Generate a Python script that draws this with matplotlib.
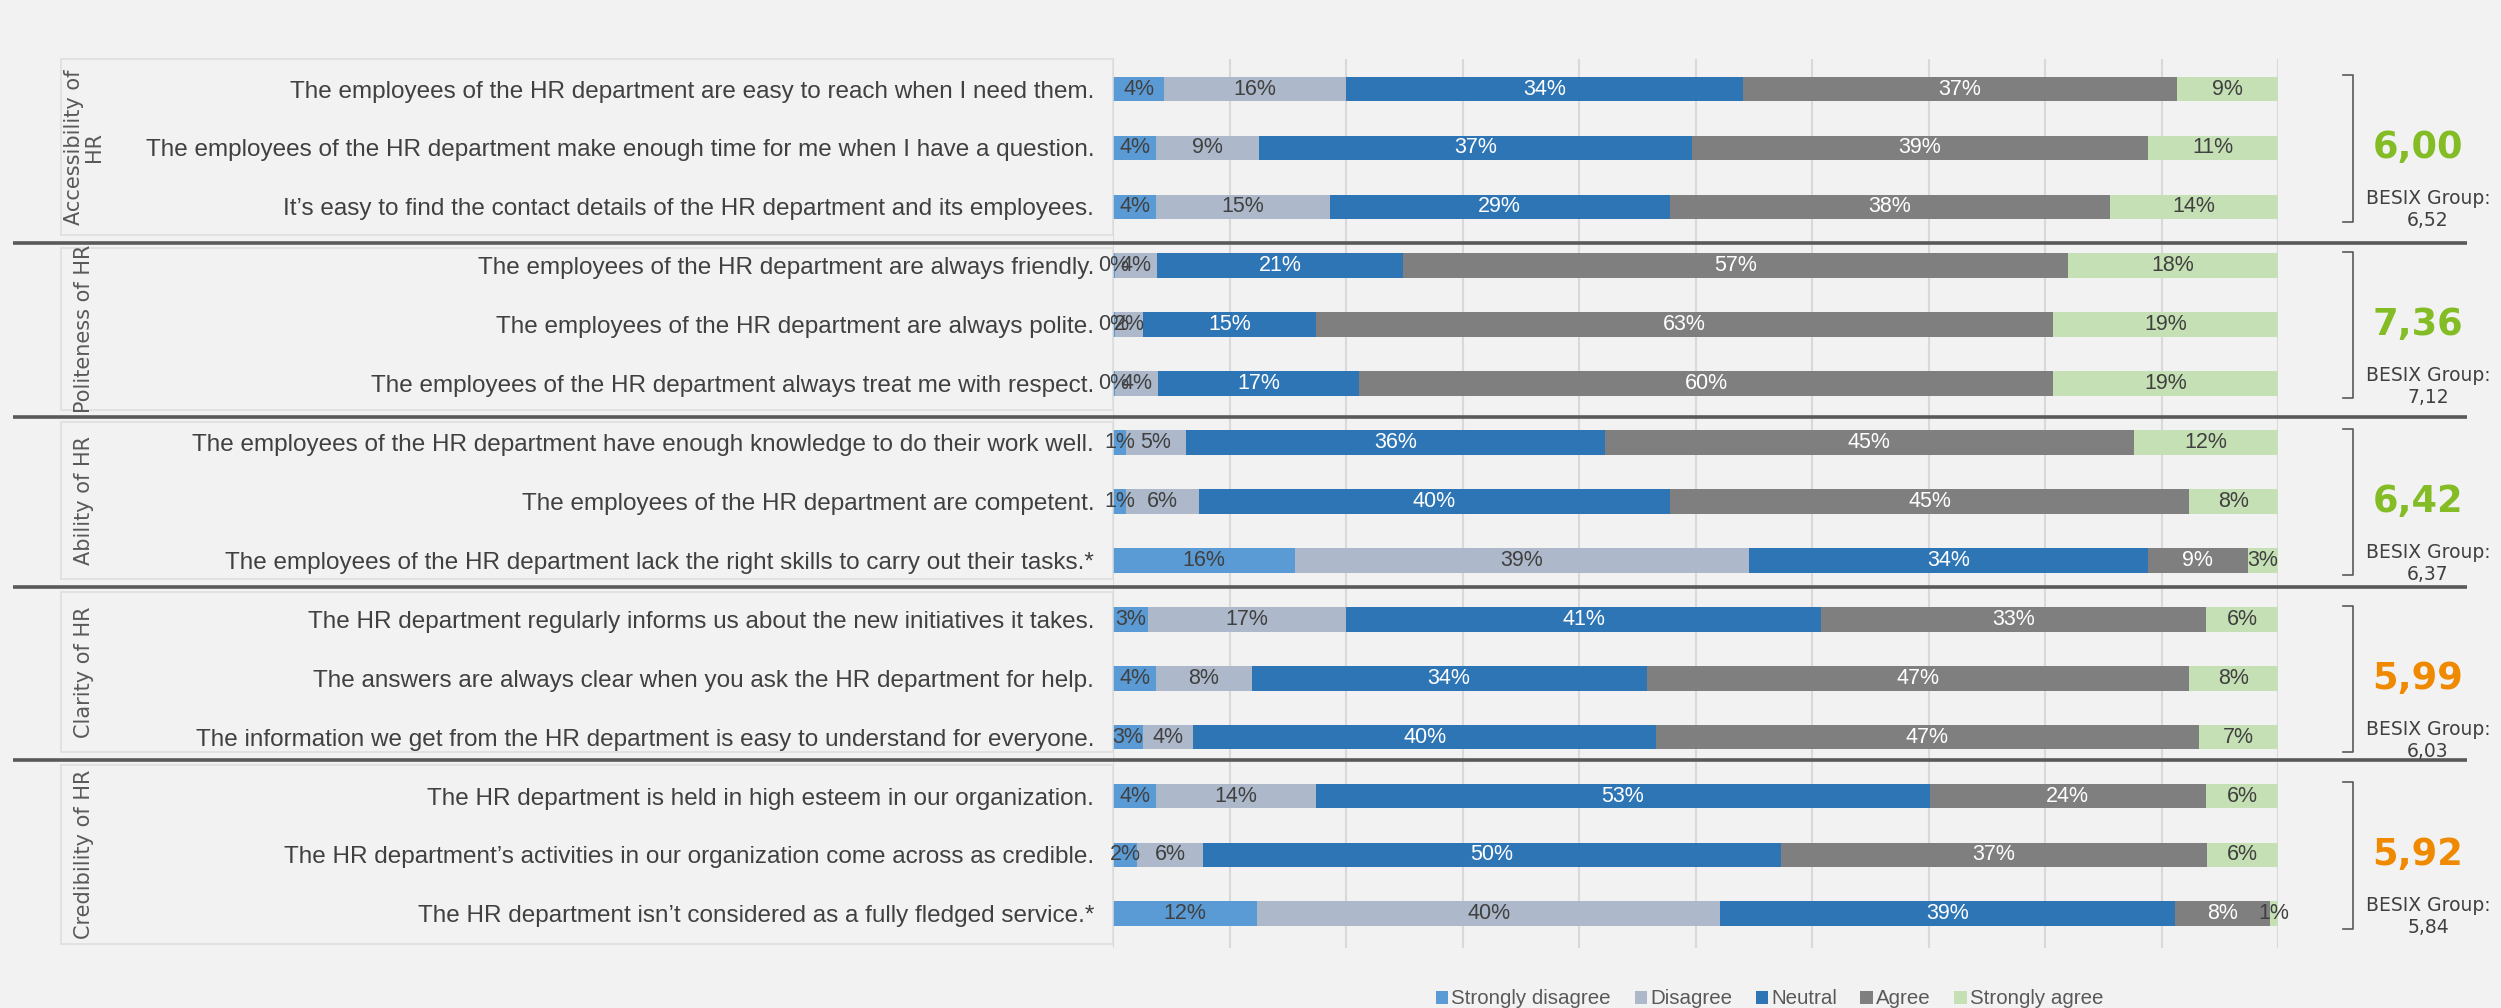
import matplotlib
matplotlib.use("Agg")
import matplotlib.pyplot as plt
from matplotlib import transforms
from matplotlib.patches import Rectangle
import numpy as np

# Survey statements, top to bottom
questions = [
    "The employees of the HR department are easy to reach when I need them.",
    "The employees of the HR department make enough time for me when I have a question.",
    "It\u2019s easy to find the contact details of the HR department and its employees.",
    "The employees of the HR department are always friendly.",
    "The employees of the HR department are always polite.",
    "The employees of the HR department always treat me with respect.",
    "The employees of the HR department have enough knowledge to do their work well.",
    "The employees of the HR department are competent.",
    "The employees of the HR department lack the right skills to carry out their tasks.*",
    "The HR department regularly informs us about the new initiatives it takes.",
    "The answers are always clear when you ask the HR department for help.",
    "The information we get from the HR department is easy to understand for everyone.",
    "The HR department is held in high esteem in our organization.",
    "The HR department\u2019s activities in our organization come across as credible.",
    "The HR department isn\u2019t considered as a fully fledged service.*",
]

sections = ["Accessibility of\nHR", "Politeness of HR", "Ability of HR",
            "Clarity of HR", "Credibility of HR"]
section_sizes = [3, 3, 3, 3, 3]

categories = ["Strongly disagree", "Disagree", "Neutral", "Agree", "Strongly agree"]

# answer shares in %
strongly_disagree = [4.4, 3.7, 3.7, 0.2, 0.2, 0.2, 1.1, 1.1, 15.6, 3.0, 3.7, 2.6, 3.7, 2.1, 12.4]
disagree = [15.6, 8.8, 14.9, 3.6, 2.4, 3.7, 5.2, 6.3, 39.0, 17.0, 8.2, 4.3, 13.7, 5.6, 39.7]
neutral = [34.1, 37.2, 29.2, 21.1, 14.8, 17.2, 35.9, 40.4, 34.2, 40.8, 33.9, 39.7, 52.7, 49.6, 39.1]
agree = [37.2, 39.1, 37.8, 57.1, 63.3, 59.6, 45.4, 44.6, 8.6, 33.0, 46.6, 46.6, 23.7, 36.6, 8.1]
strongly_agree = [8.7, 11.2, 14.4, 18.0, 19.3, 19.3, 12.4, 7.6, 2.6, 6.2, 7.6, 6.8, 6.2, 6.1, 0.7]

scores = [6.00, 7.36, 6.42, 5.99, 5.92]
besix_group = [6.52, 7.12, 6.37, 6.03, 5.84]

colors = ["#5b9bd5", "#adb9ca", "#2e75b6", "#7f7f7f", "#c5e0b4"]
label_colors = ["#404040", "#404040", "white", "white", "#404040"]

W, H = 2501, 1008
fig = plt.figure(figsize=(W / 100, H / 100), dpi=100, facecolor="#f2f2f2")
ax = fig.add_axes([1113 / W, 1 - 948 / H, 1165 / W, 889 / H])
ax.set_facecolor("none")

y = np.arange(len(questions))
series = [strongly_disagree, disagree, neutral, agree, strongly_agree]
left = np.zeros(len(questions))
handles = []
for vals, name, col, tcol in zip(series, categories, colors, label_colors):
    bars = ax.barh(y, vals, left=left, height=0.42, color=col, label=name)
    ax.bar_label(bars, labels=[f"{v:.0f}%" for v in vals], label_type="center",
                 color=tcol, fontsize=15.5, family="Liberation Sans")
    left += np.array(vals)
    handles.append(bars)

ax.set_xlim(0, 100)
ax.set_ylim(14.58, -0.51)
ax.set_xticks(np.arange(0, 101, 10))
ax.tick_params(axis="x", length=0, labelbottom=False)
ax.set_yticks(y, questions, fontsize=17.5, color="#404040", family="Liberation Sans")
ax.tick_params(axis="y", length=0, pad=13.5)
ax.grid(axis="x", color="#d9d9d9", lw=1.5)
ax.set_axisbelow(True)
for s in ax.spines.values():
    s.set_visible(False)

# figure-x / data-y transform for the side decorations
tr = transforms.blended_transform_factory(fig.transFigure, ax.transData)

sep_y = [2.61, 5.57, 8.45, 11.39]
for sy in sep_y:
    ax.plot([13 / W, 2467 / W], [sy, sy], transform=tr, color="#595959",
            lw=2.6, clip_on=False, solid_capstyle="butt")

box_top = [-0.51] + [s + 0.08 for s in sep_y]
box_bot = [s - 0.13 for s in sep_y] + [14.51]

start = 0
for k, (name, n) in enumerate(zip(sections, section_sizes)):
    first, last = start, start + n - 1
    start += n

    # light frame around the statement labels
    ax.add_patch(Rectangle((61 / W, box_top[k]), (1113 - 61) / W, box_bot[k] - box_top[k],
                           transform=tr, fill=False, ec="#dcdcdc", lw=1.1, clip_on=False))
    ax.text(84 / W, (box_top[k] + box_bot[k]) / 2, name, transform=tr, rotation=90,
            ha="center", va="center", fontsize=15, color="#595959",
            family="DejaVu Sans", linespacing=1.0, multialignment="center")

    # bracket + score
    b0, b1 = first - 0.23, last + 0.25
    ax.plot([2343 / W, 2353 / W, 2353 / W, 2343 / W], [b0, b0, b1, b1], transform=tr,
            color="#595959", lw=1.2, clip_on=False)
    mid = (first + last) / 2
    score = scores[k]
    ax.text(2418 / W, mid + 0.0, f"{score:.2f}".replace(".", ","), transform=tr,
            ha="center", va="center", fontsize=26.5, fontweight="bold",
            color="#84bc26" if score >= 6 else "#ef8a00", family="DejaVu Sans")
    ax.text(2428 / W, mid + 1.05, "BESIX Group:\n" + f"{besix_group[k]:.2f}".replace(".", ","),
            transform=tr, ha="center", va="center", fontsize=13.5, color="#404040",
            family="DejaVu Sans", linespacing=1.2)

fig.legend(handles, categories, loc="center", bbox_to_anchor=(0.7075, 1 - 999 / H),
           ncol=5, frameon=False, handlelength=0.6, handleheight=0.6,
           handletextpad=0.15, columnspacing=1.15, labelcolor="#595959",
           prop={"family": "Liberation Sans", "size": 14.8})

fig.savefig("out.png", dpi=100, facecolor=fig.get_facecolor())
